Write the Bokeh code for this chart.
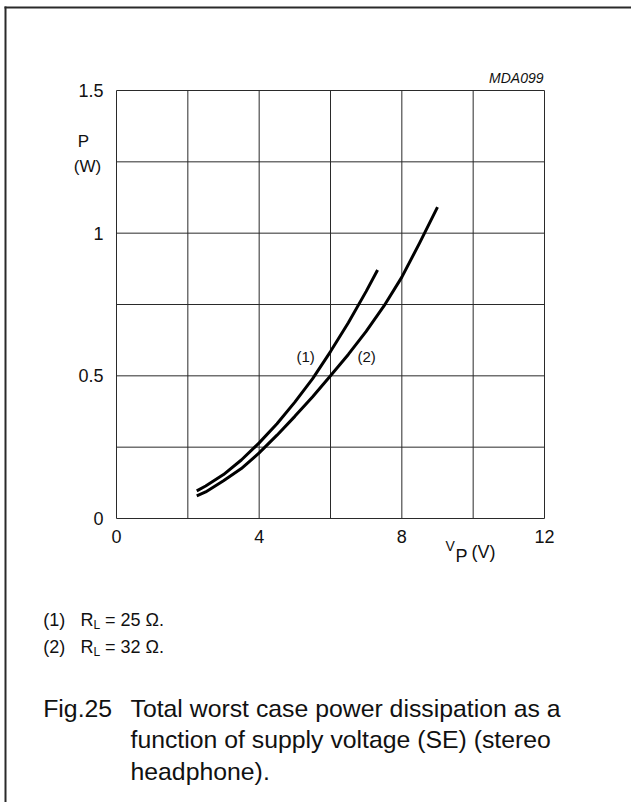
from bokeh.plotting import figure
from bokeh.models import Range1d, FixedTicker, Label, BoxAnnotation
from bokeh.embed import file_html
from bokeh.resources import INLINE

# ---------------- data ----------------
x_limits = [0, 12]
y_limits = [0, 1.5]
x_tick_values = [0, 4, 8, 12]
y_tick_values = [0, 0.5, 1, 1.5]
x_grid_values = [0, 2, 4, 6, 8, 10, 12]
y_grid_values = [0, 0.25, 0.5, 0.75, 1.0, 1.25, 1.5]

# (1) RL = 25 ohm  (VP in V, P in W)
vp_25 = [2.25, 2.5, 3.0, 3.5, 4.0, 4.5, 5.0, 5.5, 6.0, 6.5, 7.0, 7.32]
p_25 = [0.097, 0.114, 0.154, 0.205, 0.265, 0.332, 0.408, 0.49, 0.585, 0.686, 0.796, 0.871]
# (2) RL = 32 ohm
vp_32 = [2.25, 2.5, 3.0, 3.5, 4.0, 4.5, 5.0, 5.5, 6.0, 6.5, 7.0, 7.5, 8.0, 8.5, 9.0]
p_32 = [0.079, 0.093, 0.132, 0.175, 0.23, 0.292, 0.358, 0.427, 0.5, 0.575, 0.656,
        0.745, 0.846, 0.966, 1.091]

# ---------------- layout (pixels) ----------------
W, H = 631, 802
BOX_L, BOX_R, BOX_T, BOX_B = 116, 544, 90, 518
FONT = "Liberation Sans"
INK = "#111111"
BASELINE_FIX = 0.37  # em, lifts Bokeh's alphabetic baseline onto the target

ppx = (BOX_R - BOX_L) / (x_limits[1] - x_limits[0])
ppy = (BOX_B - BOX_T) / (y_limits[1] - y_limits[0])
x_range = Range1d(x_limits[0] - BOX_L / ppx, x_limits[0] + (W - BOX_L) / ppx)
y_range = Range1d(y_limits[0] - (H - BOX_B) / ppy, y_limits[0] + BOX_B / ppy)

p = figure(width=W, height=H, output_backend="svg", toolbar_location=None,
           x_range=x_range, y_range=y_range, min_border=0,
           background_fill_color="white", border_fill_color="white")
p.outline_line_color = None
p.grid.visible = False

# axes drawn at the data origin
p.xaxis.fixed_location = y_limits[0]
p.yaxis.fixed_location = x_limits[0]
p.xaxis.ticker = FixedTicker(ticks=x_tick_values)
p.yaxis.ticker = FixedTicker(ticks=y_tick_values)
p.xaxis.major_label_overrides = {v: f"{v:g}" for v in x_tick_values}
p.yaxis.major_label_overrides = {v: f"{v:g}" for v in y_tick_values}
for ax in (p.xaxis, p.yaxis):
    ax.axis_line_color = None
    ax.major_tick_line_color = None
    ax.minor_tick_line_color = None
    ax.major_label_text_font = FONT
    ax.major_label_text_font_size = "18px"
    ax.major_label_text_color = INK
p.xaxis.major_label_standoff = 5
p.yaxis.major_label_standoff = 7

# grid (outer grid lines form the box)
nx, ny = len(x_grid_values), len(y_grid_values)
p.segment(x0=x_grid_values, y0=[y_limits[0]] * nx, x1=x_grid_values, y1=[y_limits[1]] * nx,
          line_color="#2a2a2a", line_width=1)
p.segment(x0=[x_limits[0]] * ny, y0=y_grid_values, x1=[x_limits[1]] * ny, y1=y_grid_values,
          line_color="#2a2a2a", line_width=1)

# curves
p.line(vp_25, p_25, line_width=3, line_color="black", line_join="round")
p.line(vp_32, p_32, line_width=3, line_color="black", line_join="round")


def lab(text, px, py, size, align="left", style="normal"):
    p.add_layout(Label(x=px, y=py - BASELINE_FIX * size, x_units="canvas", y_units="canvas",
                       text=text, text_font=FONT, text_font_size=f"{size}px",
                       text_align=align, text_baseline="alphabetic",
                       text_color=INK, text_font_style=style))


# axis titles
lab("P", 83, 147, 17, "center")
lab("(W)", 87, 172, 17, "center")
lab("V", 445, 551, 14)
lab("P", 455, 562, 18)
lab("(V)", 471, 558.5, 18)
lab("MDA099", 543, 83, 14, "right", "italic")

# curve labels
lab("(1)", 296, 361.5, 15)
lab("(2)", 357, 361.5, 15)

# footnotes
lab("(1)", 42.7, 626, 18)
lab("R", 80, 626, 18)
lab("L", 93, 628.5, 12)
lab("= 25 \u03a9.", 104.5, 626, 18)
lab("(2)", 42.7, 653.5, 18)
lab("R", 80, 653.5, 18)
lab("L", 93, 656, 12)
lab("= 32 \u03a9.", 104.5, 653.5, 18)

# caption
lab("Fig.25", 42.7, 716.7, 24.8)
lab("Total worst case power dissipation as a", 130, 716.7, 24.8)
lab("function of supply voltage (SE) (stereo", 130, 748.3, 24.8)
lab("headphone).", 130, 780, 24.8)

# sheet frame (left and top edges)
for (l, r, t, b) in [(4, 6, 6, H), (4, W, 6, 8)]:
    p.add_layout(BoxAnnotation(left=l, right=r, top=t, bottom=b,
                               left_units="canvas", right_units="canvas",
                               top_units="canvas", bottom_units="canvas",
                               fill_color="#2a2a2a", fill_alpha=1,
                               line_color=None))

open("out.html", "w").write(file_html(p, INLINE))
